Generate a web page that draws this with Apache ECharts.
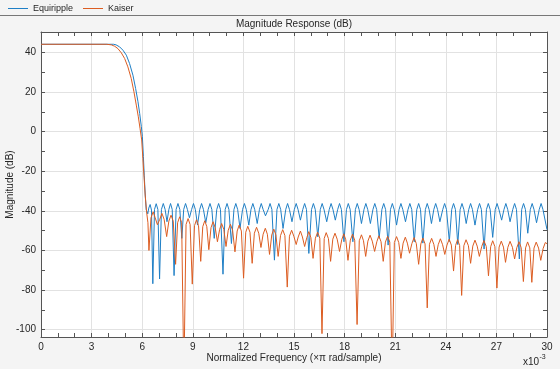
<!DOCTYPE html>
<html><head><meta charset="utf-8">
<script src="https://cdn.jsdelivr.net/npm/echarts@6/dist/echarts.min.js"></script>
<style>html,body{margin:0;padding:0;background:#f4f4f4;}#c{width:560px;height:369px;}</style>
</head><body><div id="c"></div>
<script>
const seriesNames = ['Equiripple', 'Kaiser'];
const xTickLabels = [0, 3, 6, 9, 12, 15, 18, 21, 24, 27, 30];
const yTickLabels = [-100, -80, -60, -40, -20, 0, 20, 40];
const yTickMarks = [-100, -90, -80, -70, -60, -50, -40, -30, -20, -10, 0, 10, 20, 30, 40, 50];

// Equiripple: passband + transition (x in units of 1e-3 pi rad/sample, y in dB)
const equiripplePassband = [
[0,44.1],[4.3,44.1],[4.45,43.8],[4.66,42.8],[4.86,41.1],[5.06,38.6],[5.25,34.4],[5.45,28.5],
[5.61,21.8],[5.75,15.1],[5.85,9.2],[5.95,2.5],[6.01,-2.5],[6.07,-12.6],[6.12,-22],[6.18,-32],[6.24,-39.5]
];
const equirippleStopband = [
[6.33,-41.5],[6.39,-38.6],[6.47,-36.8],[6.55,-39.6],
[6.63,-76.8],[6.73,-39.3],[6.83,-36.4],[6.93,-39.3],
[7.03,-74.4],[7.14,-39.3],[7.25,-36.3],[7.36,-39.3],
[7.47,-45.5],[7.58,-39.3],[7.68,-36.3],[7.78,-39.3],
[7.89,-72.7],[8.01,-39.3],[8.12,-36.3],[8.23,-39.3],
[8.35,-53.9],[8.46,-39.3],[8.57,-36.3],[8.68,-39.3],
[8.80,-43.5],[8.93,-39.3],[9.04,-36.3],[9.15,-39.3],
[9.28,-47.2],[9.41,-39.3],[9.52,-36.3],[9.63,-39.3],
[9.77,-46.0],[9.91,-39.3],[10.02,-36.3],[10.13,-39.3],
[10.27,-53.9],[10.42,-39.3],[10.53,-36.3],[10.64,-39.3],
[10.79,-72.0],[10.92,-39.3],[11.03,-36.3],[11.14,-39.3],
[11.29,-56.5],[11.44,-39.3],[11.55,-36.3],[11.66,-39.3],
[11.80,-48.9],[11.95,-39.3],[12.06,-36.3],[12.17,-39.3],
[12.32,-47.2],[12.45,-39.3],[12.56,-36.3],[12.67,-39.3],
[12.82,-46.4],[12.95,-39.3],[13.06,-36.3],[13.17,-39.3],
[13.31,-42.5],[13.47,-39.3],[13.58,-36.3],[13.69,-39.3],
[13.84,-64.9],[13.99,-39.3],[14.10,-36.3],[14.21,-39.3],
[14.35,-48.9],[14.51,-39.3],[14.62,-36.3],[14.73,-39.3],
[14.88,-45.5],[15.02,-39.3],[15.13,-36.3],[15.24,-39.3],
[15.38,-44.7],[15.52,-39.3],[15.63,-36.3],[15.74,-39.3],
[15.88,-61.5],[16.04,-39.3],[16.15,-36.3],[16.26,-39.3],
[16.41,-53.1],[16.56,-39.3],[16.67,-36.3],[16.78,-39.3],
[16.94,-45.5],[17.09,-39.3],[17.20,-36.3],[17.31,-39.3],
[17.45,-44.7],[17.59,-39.3],[17.70,-36.3],[17.81,-39.3],
[17.96,-55.6],[18.11,-39.3],[18.22,-36.3],[18.33,-39.3],
[18.49,-55.6],[18.64,-39.3],[18.75,-36.3],[18.86,-39.3],
[19.00,-46.4],[19.15,-39.3],[19.26,-36.3],[19.37,-39.3],
[19.53,-46.4],[19.68,-39.3],[19.79,-36.3],[19.90,-39.3],
[20.05,-53.9],[20.21,-39.3],[20.32,-36.3],[20.43,-39.3],
[20.58,-57.3],[20.72,-39.3],[20.83,-36.3],[20.94,-39.3],
[21.08,-47.2],[21.23,-39.3],[21.34,-36.3],[21.45,-39.3],
[21.61,-45.5],[21.76,-39.3],[21.87,-36.3],[21.98,-39.3],
[22.13,-55.6],[22.28,-39.3],[22.39,-36.3],[22.50,-39.3],
[22.64,-56.3],[22.79,-39.3],[22.90,-36.3],[23.01,-39.3],
[23.15,-46.4],[23.29,-39.3],[23.40,-36.3],[23.51,-39.3],
[23.65,-45.5],[23.82,-39.3],[23.93,-36.3],[24.04,-39.3],
[24.21,-55.5],[24.35,-39.3],[24.46,-36.3],[24.57,-39.3],
[24.71,-57.0],[24.85,-39.3],[24.96,-36.3],[25.07,-39.3],
[25.21,-46.4],[25.36,-39.3],[25.47,-36.3],[25.58,-39.3],
[25.73,-47.2],[25.89,-39.3],[26.00,-36.3],[26.11,-39.3],
[26.27,-59.3],[26.41,-39.3],[26.52,-36.3],[26.63,-39.3],
[26.78,-53.4],[26.93,-39.3],[27.04,-36.3],[27.15,-39.3],
[27.31,-44.7],[27.45,-39.3],[27.56,-36.3],[27.67,-39.3],
[27.81,-45.5],[27.97,-39.3],[28.08,-36.3],[28.19,-39.3],
[28.36,-64.3],[28.50,-39.3],[28.61,-36.3],[28.72,-39.3],
[28.86,-51.3],[29.01,-39.3],[29.12,-36.3],[29.23,-39.3],
[29.38,-46.0],[29.54,-39.3],[29.65,-36.3],[29.76,-39.3],
[30.00,-49.5]
];

// Kaiser: passband + transition
const kaiserPassband = [
[0,44.1],[3.9,44.1],[4.17,43.8],[4.37,43.1],[4.56,41.9],[4.76,39.8],[4.96,36.9],[5.15,32.7],
[5.35,26.8],[5.51,20.1],[5.65,13.4],[5.77,7.5],[5.87,1.7],[5.97,-4.2],[6.04,-13.5],[6.11,-23],
[6.18,-32.5],[6.26,-40.5],[6.34,-46]
];
const kaiserStopband = [
[6.40,-60.0],[6.52,-43.5],[6.65,-40.5],[6.77,-43.5],
[6.90,-47.0],[7.04,-44.3],[7.17,-41.3],[7.30,-44.3],
[7.45,-53.0],[7.58,-45.2],[7.71,-42.2],[7.84,-45.2],
[7.98,-67.0],[8.10,-46.0],[8.22,-43.0],[8.34,-46.0],
[8.47,-125],[8.60,-46.9],[8.72,-43.9],[8.84,-46.9],
[8.97,-77.0],[9.10,-47.5],[9.22,-44.5],[9.34,-47.5],
[9.47,-65.5],[9.59,-48.0],[9.71,-45.0],[9.83,-48.0],
[9.95,-59.6],[10.08,-48.5],[10.20,-45.5],[10.33,-48.5],
[10.46,-55.6],[10.59,-49.4],[10.71,-46.4],[10.84,-49.4],
[10.97,-58.0],[11.10,-49.8],[11.23,-46.8],[11.36,-49.8],
[11.50,-60.7],[11.63,-50.2],[11.75,-47.2],[11.88,-50.2],
[12.01,-74.0],[12.14,-50.8],[12.26,-47.8],[12.39,-50.8],
[12.52,-66.5],[12.65,-51.3],[12.78,-48.3],[12.91,-51.3],
[13.04,-58.5],[13.17,-51.8],[13.30,-48.8],[13.42,-51.8],
[13.55,-62.0],[13.68,-52.2],[13.80,-49.2],[13.93,-52.2],
[14.06,-63.0],[14.20,-52.5],[14.33,-49.5],[14.46,-52.5],
[14.60,-78.5],[14.73,-52.8],[14.86,-49.8],[14.99,-52.8],
[15.13,-57.0],[15.25,-53.2],[15.38,-50.2],[15.50,-53.2],
[15.63,-58.0],[15.76,-53.5],[15.88,-50.5],[16.00,-53.5],
[16.13,-64.0],[16.27,-53.8],[16.40,-50.8],[16.53,-53.8],
[16.66,-102.0],[16.79,-54.0],[16.91,-51.0],[17.04,-54.0],
[17.17,-65.5],[17.30,-54.3],[17.43,-51.3],[17.56,-54.3],
[17.70,-60.5],[17.83,-54.6],[17.95,-51.6],[18.07,-54.6],
[18.20,-65.0],[18.34,-54.8],[18.47,-51.8],[18.60,-54.8],
[18.74,-97.4],[18.87,-55.1],[19.00,-52.1],[19.12,-55.1],
[19.25,-63.0],[19.38,-55.3],[19.51,-52.3],[19.64,-55.3],
[19.78,-60.5],[19.91,-55.6],[20.03,-52.6],[20.16,-55.6],
[20.29,-65.5],[20.42,-55.8],[20.55,-52.8],[20.68,-55.8],
[20.82,-125],[20.95,-56.0],[21.08,-53.0],[21.21,-56.0],
[21.34,-64.0],[21.47,-56.3],[21.60,-53.3],[21.72,-56.3],
[21.85,-61.4],[21.99,-56.5],[22.12,-53.5],[22.25,-56.5],
[22.39,-67.0],[22.52,-56.7],[22.64,-53.7],[22.77,-56.7],
[22.90,-89.0],[23.03,-56.9],[23.16,-53.9],[23.29,-56.9],
[23.42,-63.0],[23.55,-57.1],[23.68,-54.1],[23.81,-57.1],
[23.94,-62.0],[24.07,-57.3],[24.20,-54.3],[24.33,-57.3],
[24.46,-70.4],[24.58,-57.5],[24.70,-54.5],[24.82,-57.5],
[24.94,-82.7],[25.07,-57.6],[25.20,-54.6],[25.34,-57.6],
[25.47,-66.5],[25.60,-57.8],[25.73,-54.8],[25.86,-57.8],
[25.99,-63.0],[26.13,-58.0],[26.26,-55.0],[26.40,-58.0],
[26.53,-72.8],[26.66,-58.1],[26.78,-55.1],[26.91,-58.1],
[27.03,-79.0],[27.16,-58.3],[27.29,-55.3],[27.42,-58.3],
[27.54,-66.0],[27.68,-58.4],[27.81,-55.4],[27.95,-58.4],
[28.08,-64.3],[28.21,-58.6],[28.34,-55.6],[28.47,-58.6],
[28.60,-75.7],[28.73,-58.7],[28.85,-55.7],[28.98,-58.7],
[29.10,-76.1],[29.23,-58.8],[29.36,-55.8],[29.50,-58.8],
[29.63,-65.0],[29.77,-59.0],[29.90,-56.0],[30.00,-56.6]
];

const FONT = '"Liberation Sans", Arial, Helvetica, sans-serif';
const AX = '#555555';
const TXT = '#262626';
const GRIDC = '#e2e2e2';
const BLUE = '#1f7fc6';
const ORANGE = '#dc5d22';
const Y_MIN = -103.7, Y_MAX = 50.3;

const chart = echarts.init(document.getElementById('c'), null, {renderer: 'canvas'});

const yBase = {
  type: 'value', min: Y_MIN, max: Y_MAX,
  axisLine: {show: true, onZero: false, lineStyle: {color: AX, width: 1}},
  axisTick: {show: true, inside: true, length: 4, customValues: yTickMarks, lineStyle: {color: AX}},
  axisLabel: {show: false},
  splitLine: {show: false}
};
const xBase = {
  type: 'value', min: 0, max: 30, interval: 3,
  axisLine: {show: true, onZero: false, lineStyle: {color: AX, width: 1}},
  axisTick: {show: true, inside: true, length: 4, lineStyle: {color: AX}},
  minorTick: {show: true, splitNumber: 3, length: 4, lineStyle: {color: AX}},
  axisLabel: {show: false},
  splitLine: {show: false}
};

chart.setOption({
  animation: false,
  backgroundColor: '#f4f4f4',
  textStyle: {fontFamily: FONT},
  legend: {
    data: seriesNames, left: 3, top: -1, itemWidth: 20, itemHeight: 1, itemGap: 10, icon: 'rect',
    textStyle: {fontSize: 9, color: TXT, fontFamily: FONT}
  },
  grid: {left: 41, top: 32, width: 506, height: 305, containLabel: false, outerBoundsMode: 'none',
         show: true, backgroundColor: '#ffffff', borderWidth: 0},
  xAxis: [
    Object.assign({}, xBase, {
      position: 'bottom',
      axisLabel: {show: true, color: TXT, fontSize: 10, margin: 5, fontFamily: FONT, customValues: xTickLabels},
      splitLine: {show: true, lineStyle: {color: GRIDC, width: 1}},
      name: 'Normalized Frequency (\u00d7\u03c0 rad/sample)', nameLocation: 'middle', nameGap: 16,
      nameMoveOverlap: false,
      nameTextStyle: {fontSize: 10, color: TXT, fontFamily: FONT}
    }),
    Object.assign({}, xBase, {position: 'top'})
  ],
  yAxis: [
    Object.assign({}, yBase, {
      position: 'left',
      axisLabel: {show: true, color: TXT, fontSize: 10, margin: 5, fontFamily: FONT, customValues: yTickLabels},
      name: 'Magnitude (dB)', nameLocation: 'middle', nameGap: 26,
      nameMoveOverlap: false,
      nameTextStyle: {fontSize: 10, color: TXT, fontFamily: FONT}
    }),
    Object.assign({}, yBase, {position: 'right'}),
    {
      type: 'value', min: Y_MIN, max: Y_MAX, position: 'left', splitNumber: 7,
      axisLine: {show: false}, axisLabel: {show: false},
      axisTick: {show: false, customValues: yTickLabels},
      splitLine: {show: true, lineStyle: {color: GRIDC, width: 1}}
    }
  ],
  graphic: [
    {type: 'line', shape: {x1: 0, y1: 15.5, x2: 560, y2: 15.5}, style: {stroke: '#777777', lineWidth: 1}, z: 10},
    {type: 'text', x: 294, y: 24, style: {text: 'Magnitude Response (dB)', font: '10px ' + FONT, fill: TXT,
      textAlign: 'center', align: 'center', textVerticalAlign: 'middle', verticalAlign: 'middle'}},
    {type: 'text', x: 523, y: 362, style: {text: 'x10', font: '10px ' + FONT, fill: TXT,
      textAlign: 'left', align: 'left', textVerticalAlign: 'middle', verticalAlign: 'middle'}},
    {type: 'text', x: 539.5, y: 357, style: {text: '-3', font: '7px ' + FONT, fill: TXT,
      textAlign: 'left', align: 'left', textVerticalAlign: 'middle', verticalAlign: 'middle'}}
  ],
  series: [
    {name: seriesNames[0], type: 'line', xAxisIndex: 0, yAxisIndex: 0, symbol: 'none', clip: true,
     data: equiripplePassband.concat(equirippleStopband),
     lineStyle: {width: 1, color: BLUE}, itemStyle: {color: BLUE}},
    {name: seriesNames[1], type: 'line', xAxisIndex: 0, yAxisIndex: 0, symbol: 'none', clip: true,
     data: kaiserPassband.concat(kaiserStopband),
     lineStyle: {width: 1, color: ORANGE}, itemStyle: {color: ORANGE}}
  ]
});
</script></body></html>
